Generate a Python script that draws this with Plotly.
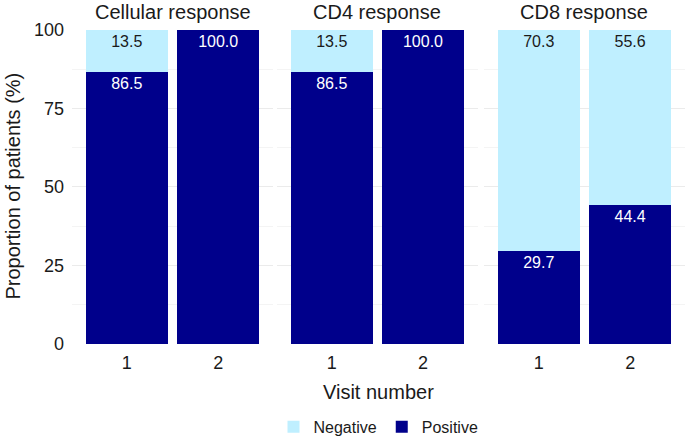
import plotly.graph_objects as go

panels = ["Cellular response", "CD4 response", "CD8 response"]
visits = ["1", "2"]
positive = [[86.5, 100.0], [86.5, 100.0], [29.7, 44.4]]
negative = [[13.5, 0.0], [13.5, 0.0], [70.3, 55.6]]
y_ticks = [0, 25, 50, 75, 100]

NAVY = "#00008B"
LIGHT = "#BFEFFF"
FONT = "Liberation Sans, Arial, sans-serif"

fig = go.Figure()
domains = [[0.0, 0.328], [0.3344, 0.662], [0.672, 1.0]]

for i, name in enumerate(panels):
    xa = "x" if i == 0 else f"x{i+1}"
    ya = "y" if i == 0 else f"y{i+1}"
    fig.add_trace(go.Bar(
        x=visits, y=positive[i], name="Positive", marker_color=NAVY,
        marker_line_width=0,
        text=[f"{v:.1f}" if v > 0 else "" for v in positive[i]],
        textposition="inside", insidetextanchor="end",
        textfont=dict(color="white", size=16, family=FONT),
        legendgroup="pos", showlegend=(i == 0), xaxis=xa, yaxis=ya,
        hoverinfo="skip",
    ))
    fig.add_trace(go.Bar(
        x=visits, y=negative[i], name="Negative", marker_color=LIGHT,
        marker_line_width=0,
        text=[f"{v:.1f}" if v > 0 else "" for v in negative[i]],
        textposition="inside", insidetextanchor="end",
        textfont=dict(color="#1a1a1a", size=16, family=FONT),
        legendgroup="neg", showlegend=(i == 0), xaxis=xa, yaxis=ya,
        hoverinfo="skip",
    ))

layout = dict(
    width=685, height=438,
    barmode="stack", bargap=0.1,
    plot_bgcolor="white", paper_bgcolor="white",
    margin=dict(l=72, r=0, t=29, b=94, autoexpand=False),
    font=dict(family=FONT, size=18, color="#1a1a1a"),
    showlegend=True,
    legend=dict(orientation="h", x=0.5, xanchor="center", y=-0.263, yanchor="middle",
                traceorder="reversed", font=dict(size=16), itemwidth=30),
    uniformtext=dict(mode="show", minsize=10),
)

annotations = []
for i, name in enumerate(panels):
    sfx = "" if i == 0 else str(i + 1)
    layout[f"xaxis{sfx}"] = dict(
        domain=domains[i], type="category", range=[-0.6, 1.6],
        showgrid=False, zeroline=False, showline=False, ticks="",
        tickfont=dict(size=18), anchor=f"y{sfx}", automargin=False,
        ticklabelstandoff=6,
    )
    layout[f"yaxis{sfx}"] = dict(
        range=[0, 100.3], tickvals=y_ticks, showgrid=True, gridcolor="#EBEBEB",
        gridwidth=1, zeroline=False, showline=False, ticks="",
        showticklabels=(i == 0), tickfont=dict(size=18), anchor=f"x{sfx}",
        automargin=False, ticklabelstandoff=7,
        minor=dict(tickvals=[12.5, 37.5, 62.5, 87.5], showgrid=True,
                   gridcolor="#F4F4F4", gridwidth=1),
    )
    annotations.append(dict(
        text=name, x=(domains[i][0] + domains[i][1]) / 2, xref="paper",
        xanchor="center", y=1.0, yref="paper", yanchor="middle", yshift=17,
        showarrow=False, font=dict(size=20),
    ))

annotations.append(dict(text="Visit number", x=0.5, xref="paper", xanchor="center",
                        y=-0.152, yref="paper", yanchor="middle", showarrow=False,
                        font=dict(size=20)))
annotations.append(dict(text="Proportion of patients (%)", x=0, xref="paper",
                        xshift=-60, xanchor="center", y=0.5, yref="paper",
                        yanchor="middle", textangle=-90, showarrow=False,
                        font=dict(size=20)))
layout["annotations"] = annotations

fig.update_layout(**layout)
fig.write_html("out.html", config={"displayModeBar": False},
               post_script="document.body.style.margin='0';document.body.style.overflow='hidden';")
